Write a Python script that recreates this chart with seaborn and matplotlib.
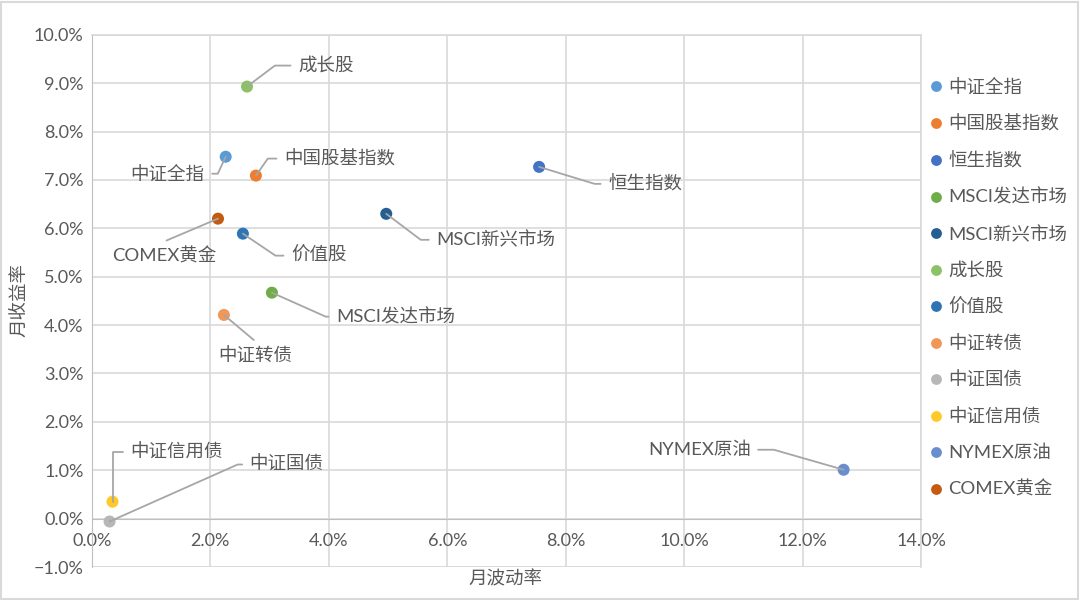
import pandas as pd
import matplotlib.pyplot as plt
import matplotlib.ticker as mtick
from matplotlib.patches import Rectangle
import seaborn as sns

# monthly volatility / return (in %)
names = ['中证全指', '中国股基指数', '恒生指数', 'MSCI发达市场', 'MSCI新兴市场', '成长股',
         '价值股', '中证转债', '中证国债', '中证信用债', 'NYMEX原油', 'COMEX黄金']
vol = [2.26, 2.77, 7.55, 3.04, 4.97, 2.62, 2.55, 2.23, 0.30, 0.35, 12.69, 2.13]
ret = [7.48, 7.09, 7.27, 4.67, 6.30, 8.93, 5.89, 4.21, -0.06, 0.35, 1.01, 6.20]
colors = ['#5B9BD5', '#ED7D31', '#4472C4', '#70AD47', '#255E91', '#8CC168',
          '#2E75B6', '#F1975A', '#B7B7B7', '#FFCA28', '#698ED0', '#C55A11']

# label placement: offset in pixels, alignment, leader angle at text, leader angle at point
label_pos = {
    '成长股': (51, 21, 'left', 0, 37),
    '中证全指': (-21, -17, 'right', 0, 65),
    '中国股基指数': (28, 17, 'left', 0, 55),
    'COMEX黄金': (-54, -37, 'center', 90, 23),
    '价值股': (48, -22, 'left', 0, -34),
    'MSCI新兴市场': (50, -26, 'left', 0, -37),
    '恒生指数': (69, -17, 'left', 0, -17),
    'MSCI发达市场': (64, -24, 'left', 0, -24),
    '中证转债': (31, -41, 'center', 90, -40),
    '中证信用债': (18, 50, 'left', 0, 90),
    '中证国债': (140, 57, 'left', 0, 24),
    'NYMEX原油': (-93, 20, 'right', 0, -16),
}

df = pd.DataFrame({'name': names, 'vol': [v / 100 for v in vol], 'ret': [r / 100 for r in ret]})

sns.set_style('white')
plt.rcParams['font.family'] = ['Lato', 'Noto Sans CJK SC', 'DejaVu Sans']
txt = '#595959'
grid = '#D9D9D9'
fs = 13.3

fig = plt.figure(figsize=(10.8, 6), dpi=100)
ax = fig.add_axes([0.085, 0.055, 0.768, 0.887])

sns.scatterplot(data=df, x='vol', y='ret', hue='name', palette=colors, s=75,
                linewidth=0, ax=ax, zorder=3)

ax.set_xlim(0, 0.14)
ax.set_ylim(-0.01, 0.10)
ax.xaxis.set_major_locator(mtick.MultipleLocator(0.02))
ax.yaxis.set_major_locator(mtick.MultipleLocator(0.01))
ax.xaxis.set_major_formatter(mtick.PercentFormatter(1.0, decimals=1))
ax.yaxis.set_major_formatter(mtick.PercentFormatter(1.0, decimals=1))
ax.grid(True, color=grid, linewidth=1.2)
ax.set_axisbelow(True)
for s in ['top', 'right']:
    ax.spines[s].set_color(grid)
    ax.spines[s].set_linewidth(1.2)
ax.spines['left'].set_color('#BFBFBF')
ax.spines['bottom'].set_color('#BFBFBF')
ax.spines['bottom'].set_position(('data', 0))
ax.tick_params(axis='both', length=0, labelsize=13, labelcolor=txt)
ax.tick_params(axis='x', pad=10)
ax.tick_params(axis='y', pad=6)
# bottom border of plot area at -1%
ax.axhline(-0.01, color=grid, linewidth=1.2, zorder=1)

ax.set_xlabel('')
ax.set_ylabel('')
fig.text(0.468, 0.036, '月波动率', ha='center', va='center', fontsize=fs, color=txt)
fig.text(0.017, 0.5, '月收益率', ha='center', va='center', rotation=90, fontsize=fs, color=txt)

for n, x, y in zip(df['name'], df['vol'], df['ret']):
    dx, dy, ha, a_ang, b_ang = label_pos[n]
    cs = f'angle,angleA={a_ang},angleB={b_ang},rad=0'
    ax.annotate(n, xy=(x, y), xytext=(dx, dy), textcoords='offset pixels',
                ha=ha, va='center', fontsize=fs, color=txt,
                arrowprops=dict(arrowstyle='-', color='#A6A6A6', lw=1.3,
                                connectionstyle=cs, shrinkA=3, shrinkB=0),
                zorder=4)

handles, labels = ax.get_legend_handles_labels()
ax.legend_.remove()
fig.legend(handles, labels, loc='upper left', bbox_to_anchor=(0.841, 0.897),
           frameon=False, fontsize=fs, labelcolor=txt, handletextpad=0.05,
           labelspacing=1.05, markerscale=0.9, handlelength=1.2)

fig.patches.append(Rectangle((0.001, 0.002), 0.997, 0.995, transform=fig.transFigure,
                             fill=False, edgecolor=grid, linewidth=1.5))

fig.savefig('out.png', dpi=100)
